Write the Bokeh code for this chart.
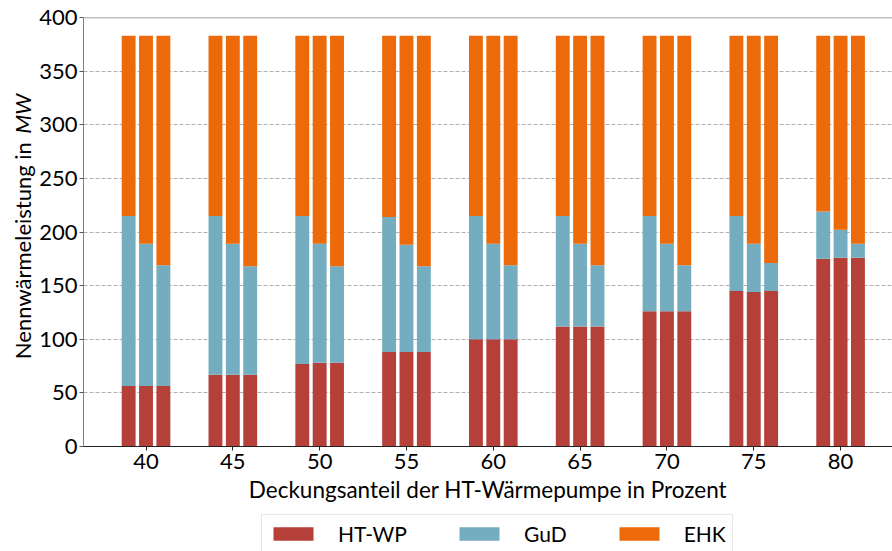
import math
from bokeh.plotting import figure
from bokeh.layouts import column, row
from bokeh.models import (ColumnDataSource, FixedTicker, Legend, LegendItem,
                          Label, Span, Range1d)
from bokeh.embed import file_html
from bokeh.resources import INLINE

# ---- data -------------------------------------------------------------
deckung = [40, 45, 50, 55, 60, 65, 70, 75, 80]          # x categories (percent)
series = ["HT-WP", "GuD", "EHK"]
colors = ["#b5403a", "#74acc0", "#ec6a0a"]

# three bars per group (variants), values in MW
ht_wp = [[56.5, 56.5, 56.5], [67, 67, 67], [77, 78, 78], [88, 88, 88],
         [100, 100, 100], [112, 112, 112], [126, 126, 126], [145, 144, 145],
         [175, 176, 176]]
gud = [[158.5, 132.5, 112.5], [148, 122, 101], [138, 111, 90], [126, 100, 80],
       [115, 89, 69], [103, 77, 57], [89, 63, 43], [70, 45, 26], [44, 26, 13]]
ehk = [[168, 194, 214], [168, 194, 215], [168, 194, 215], [169, 195, 215],
       [168, 194, 214], [168, 194, 214], [168, 194, 214], [168, 194, 212],
       [164, 181, 194]]

y_ticks = [0, 50, 100, 150, 200, 250, 300, 350, 400]
x_label = "Deckungsanteil der HT-Wärmepumpe in Prozent"
y_label_main = "Nennwärmeleistung in"
y_label_unit = "MW"

# ---- layout -----------------------------------------------------------
offsets = [-1, 0, 1]
bar_width = 0.8
FONT = "Lato"
FS = "22px"
W, H_MAIN, H_LEG, W_YLAB = 892, 505, 46, 36

xs, c_ht, c_gud, c_ehk = [], [], [], []
for i, d in enumerate(deckung):
    for j, off in enumerate(offsets):
        xs.append(d + off)
        c_ht.append(ht_wp[i][j])
        c_gud.append(gud[i][j])
        c_ehk.append(ehk[i][j])

source = ColumnDataSource(dict(x=xs, ht=c_ht, gud=c_gud, ehk=c_ehk))
fields = ["ht", "gud", "ehk"]

x_start, x_end = 36.4, 82.99
p = figure(width=W - W_YLAB, height=H_MAIN,
           x_range=Range1d(x_start, x_end), y_range=Range1d(0, 400),
           output_backend="svg", toolbar_location=None,
           min_border_left=0, min_border_top=17, min_border_right=0,
           min_border_bottom=0)

rs = p.vbar_stack(fields, x="x", width=bar_width,
                  fill_color=colors, line_color=None, source=source)

p.outline_line_color = None
p.background_fill_color = "white"
p.border_fill_color = "white"

# top spine
p.add_layout(Span(location=400, dimension="width", line_color="#7f7f7f",
                  line_width=1.5))

# axes
p.xaxis.ticker = FixedTicker(ticks=deckung)
p.yaxis.ticker = FixedTicker(ticks=y_ticks)
for ax in (p.xaxis, p.yaxis):
    ax.major_label_text_font = FONT
    ax.major_label_text_font_size = FS
    ax.major_label_text_color = "black"
    ax.minor_tick_line_color = None
    ax.major_tick_in = 0
    ax.major_tick_out = 4
p.xaxis.major_label_standoff = 3
p.yaxis.major_label_standoff = 2
p.xaxis.axis_line_color = "#222222"
p.xaxis.major_tick_line_color = "#222222"
p.yaxis.axis_line_color = "#7f7f7f"
p.yaxis.major_tick_line_color = "#555555"

p.xaxis.axis_label = x_label
p.xaxis.axis_label_text_font = FONT
p.xaxis.axis_label_text_font_size = "22.5px"
p.xaxis.axis_label_text_font_style = "normal"
p.xaxis.axis_label_text_color = "black"
p.xaxis.axis_label_standoff = 4

# grid
p.xgrid.visible = False
p.ygrid.grid_line_color = "#b0b0b0"
p.ygrid.grid_line_dash = "4 2"
p.ygrid.grid_line_width = 1


def blank_fig(w, h, xr, yr):
    f = figure(width=w, height=h, x_range=xr, y_range=yr,
               output_backend="svg", toolbar_location=None, min_border=0)
    f.axis.visible = False
    f.grid.visible = False
    f.outline_line_color = None
    f.background_fill_color = "white"
    f.border_fill_color = "white"
    return f


# y-axis label strip (unit in italics)
ylab = blank_fig(W_YLAB, H_MAIN, Range1d(0, W_YLAB), Range1d(0, H_MAIN))
ylab.add_layout(Label(x=22, y=H_MAIN - 146.7, text=y_label_main,
                      angle=math.pi / 2, text_align="right",
                      text_baseline="middle", text_font=FONT,
                      text_font_size=FS, text_color="black"))
ylab.add_layout(Label(x=22, y=H_MAIN - 136.7, text=y_label_unit,
                      angle=math.pi / 2, text_align="left",
                      text_baseline="middle", text_font=FONT,
                      text_font_size=FS, text_font_style="italic",
                      text_color="black"))

# legend strip: same stacked series, ranges chosen so bars stay out of view
leg = blank_fig(W, H_LEG, Range1d(1000, 1000 + W), Range1d(1000, 1000 + H_LEG))
leg_rs = leg.vbar_stack(fields, x="x", width=bar_width, fill_color=colors,
                        line_color=None, source=source)
legend = Legend(items=[LegendItem(label=s, renderers=[r])
                       for s, r in zip(series, leg_rs)],
                orientation="horizontal", location=(261, -2),
                glyph_width=50, glyph_height=17, label_standoff=20,
                spacing=47, padding=6, margin=0,
                label_text_font=FONT, label_text_font_size="21px",
                label_text_color="black", background_fill_color="white",
                border_line_color="#d0d0d0", border_line_width=1)
leg.add_layout(legend, "center")

layout = column(row(ylab, p), leg)
open("out.html", "w").write(file_html(layout, INLINE))
